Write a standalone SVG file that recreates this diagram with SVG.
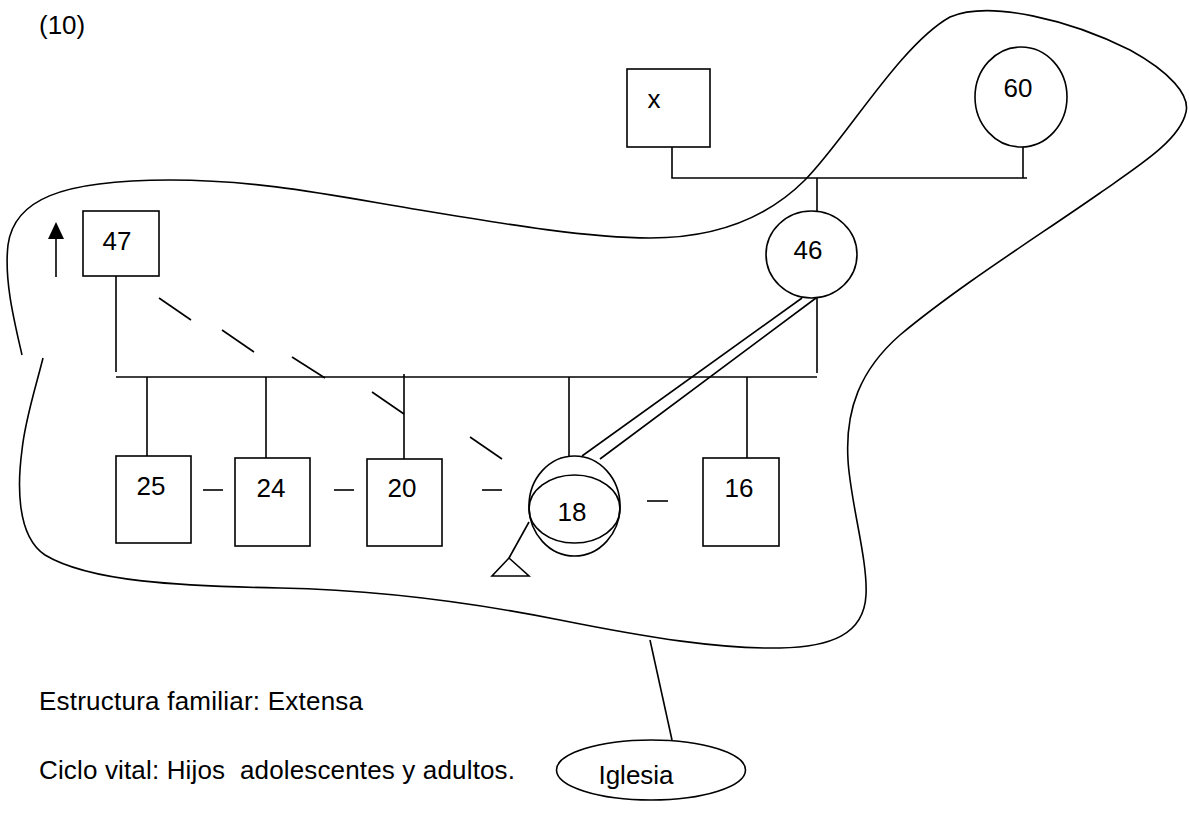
<svg xmlns="http://www.w3.org/2000/svg" width="1189" height="815" viewBox="0 0 1189 815">
<style>
.s{fill:none;stroke:#000;stroke-width:1.6}
.n{fill:#fff;stroke:#000;stroke-width:1.6}
.t{font-family:"Liberation Sans",Arial,sans-serif;font-size:26px;fill:#000}
.c{text-anchor:middle}
</style>
<rect width="1189" height="815" fill="#fff"/>
<text class="t" x="39" y="34">(10)</text>
<g id="boundary">
<path class="s" d="M 22 355 C 14 320, 4 280, 8 245 C 14 200, 60 180, 170 180 C 260 180, 330 195, 420 210 C 510 225, 590 238, 650 238 C 720 238, 770 215, 805 180 C 845 140, 900 45, 950 17 C 990 0, 1070 20, 1130 50 C 1170 72, 1190 95, 1186 112 C 1180 140, 1140 165, 1100 193 C 1040 235, 960 285, 900 335 C 860 370, 845 410, 848 460 C 850 500, 868 560, 866 595 C 864 635, 830 647, 780 648 C 720 649, 650 638, 560 620 C 470 602, 380 590, 280 588 C 180 586, 90 582, 45 555 C 15 535, 18 480, 22 450 C 25 420, 35 390, 43 358"/>
</g>
<g id="connectors">
<polyline class="s" points="672,147 672,178 1027,178"/>
<line class="s" x1="1023" y1="147" x2="1023" y2="178"/>
<line class="s" x1="817" y1="178" x2="817" y2="211"/>
<line class="s" x1="116" y1="276" x2="116" y2="372"/>
<line class="s" x1="817" y1="298" x2="817" y2="373"/>
<line class="s" x1="116" y1="377" x2="817" y2="377"/>
<line class="s" x1="147" y1="377" x2="147" y2="456"/>
<line class="s" x1="266" y1="377" x2="266" y2="458"/>
<line class="s" x1="404" y1="374" x2="404" y2="459"/>
<line class="s" x1="569" y1="377" x2="569" y2="456"/>
<line class="s" x1="747" y1="377" x2="747" y2="458"/>
<line class="s" x1="582" y1="456" x2="802" y2="298"/>
<line class="s" x1="600" y1="459" x2="816" y2="298"/>
<g id="dashes">
<line class="s" x1="159" y1="298" x2="191" y2="320"/>
<line class="s" x1="222" y1="330" x2="254" y2="352"/>
<line class="s" x1="292" y1="357" x2="325" y2="378"/>
<line class="s" x1="372" y1="392" x2="404" y2="414"/>
<line class="s" x1="470" y1="437" x2="502" y2="459"/>
<line class="s" x1="203" y1="490" x2="223" y2="490"/>
<line class="s" x1="334" y1="490" x2="354" y2="490"/>
<line class="s" x1="482" y1="490" x2="502" y2="490"/>
<line class="s" x1="647" y1="501" x2="668" y2="501"/>
</g>
<line class="s" x1="529" y1="522" x2="509" y2="558"/>
<line class="s" x1="650" y1="640" x2="672" y2="740"/>
<line class="s" x1="56" y1="277" x2="56" y2="236"/>
<polygon points="56,222 48,239 64,239" fill="#000"/>
</g>
<g id="node-x"><rect class="n" x="627" y="69" width="83" height="78"/><text class="t c" x="654" y="108">x</text></g>
<g id="node-60"><ellipse class="n" cx="1021" cy="97" rx="46" ry="50"/><text class="t c" x="1018" y="97">60</text></g>
<g id="node-46"><ellipse class="n" cx="811.5" cy="254.5" rx="45.5" ry="43.5"/><text class="t c" x="808" y="259">46</text></g>
<g id="node-47"><rect class="n" x="83" y="211" width="76" height="65"/><text class="t c" x="117" y="250">47</text></g>
<g id="node-25"><rect class="n" x="116" y="456" width="75" height="87"/><text class="t c" x="151" y="495">25</text></g>
<g id="node-24"><rect class="n" x="235" y="458" width="75" height="88"/><text class="t c" x="271" y="497">24</text></g>
<g id="node-20"><rect class="n" x="367" y="459" width="75" height="87"/><text class="t c" x="402" y="497">20</text></g>
<g id="node-18"><ellipse class="n" cx="574.5" cy="506" rx="45.5" ry="50"/><ellipse class="s" cx="574.5" cy="509" rx="45.5" ry="34"/><text class="t c" x="572" y="521">18</text></g>
<g id="node-triangle"><polygon class="n" points="509,558 492,576 529,576"/></g>
<g id="node-16"><rect class="n" x="703" y="458" width="76" height="88"/><text class="t c" x="739" y="497">16</text></g>
<g id="node-iglesia"><ellipse class="n" cx="651" cy="770" rx="94.5" ry="30"/><text class="t c" x="636" y="784">Iglesia</text></g>
<text class="t" x="39" y="710" textLength="324">Estructura familiar: Extensa</text>
<text class="t" x="39" y="779" textLength="476" style="white-space:pre">Ciclo vital: Hijos  adolescentes y adultos.</text>
</svg>
